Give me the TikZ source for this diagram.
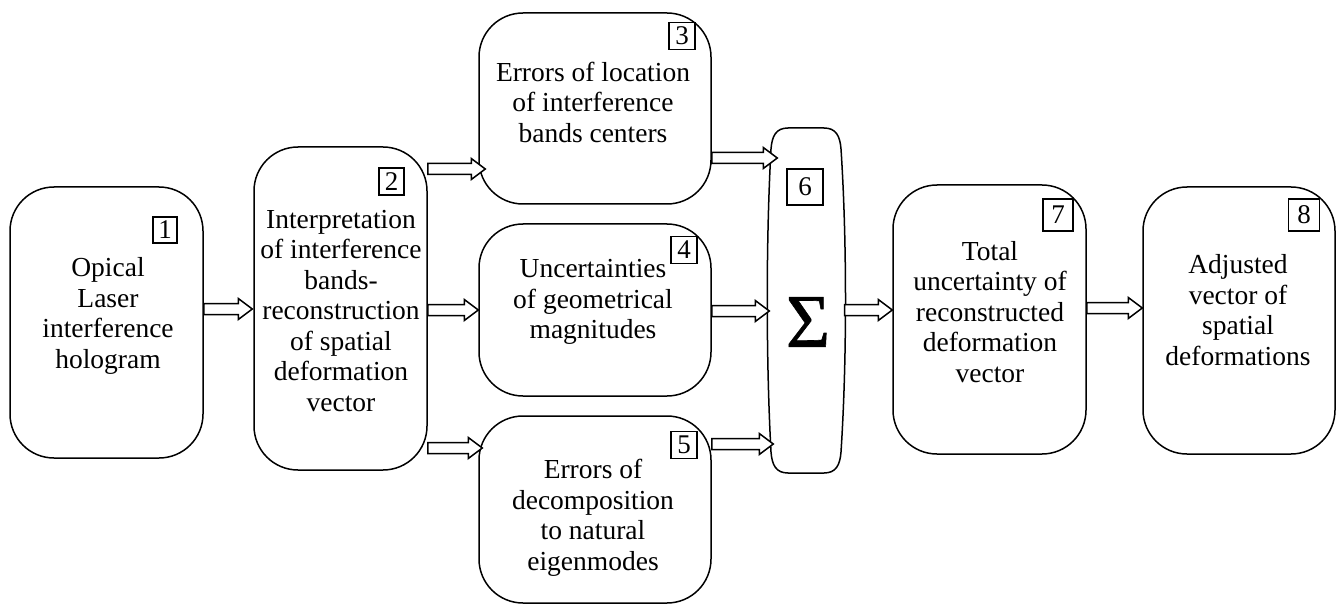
\documentclass[tikz,border=0pt]{standalone}
\usepackage{fontspec}
\setmainfont{Liberation Serif}
\newfontfamily\sigmafont[FakeBold=0.8]{Liberation Serif}
\usetikzlibrary{calc}
% hollow block arrow from the right side of #1 to the left side of #2,
% at height #3, with the tip moved right by #4
\newcommand\blk[4]{%
  \draw[blkarrow] let \p1=(#1.east |- 0,#3), \p2=(#2.west |- 0,#3) in
    (\x1,\y1+5.5pt) -- (\x2+#4pt-14pt,\y1+5.5pt) -- (\x2+#4pt-14pt,\y1+10.5pt)
    -- (\x2+#4pt,\y1) -- (\x2+#4pt-14pt,\y1-10.5pt) -- (\x2+#4pt-14pt,\y1-5.5pt)
    -- (\x1,\y1-5.5pt) -- cycle;}
\begin{document}
\begin{tikzpicture}[x=1pt,y=-1pt,
  box/.style={draw,line width=1.5pt,rounded corners=44pt,inner sep=0pt},
  num/.style={draw,line width=1.1pt,inner sep=0pt,font=\fontsize{27}{27}\selectfont},
  txt/.style={align=center,font=\fontsize{27.5}{30.5}\selectfont,inner sep=0pt},
  blkarrow/.style={draw,line width=1.5pt,fill=white,line join=miter}]
\useasboundingbox (0,0) rectangle (1341,604);

% process blocks
\node[box,minimum width=193pt,minimum height=271pt] (b1) at (106.5,322.5) {};
\node[box,minimum width=173pt,minimum height=323pt] (b2) at (340.5,308.5) {};
\node[box,minimum width=232pt,minimum height=191pt] (b3) at (595,108.5) {};
\node[box,minimum width=232pt,minimum height=172pt] (b4) at (595,310) {};
\node[box,minimum width=232pt,minimum height=187pt] (b5) at (595,509.5) {};
\node[box,minimum width=193pt,minimum height=269pt] (b7) at (989.5,319.5) {};
\node[box,minimum width=192pt,minimum height=267pt] (b8) at (1239,320.5) {};

% summing block
\node[minimum width=77pt,minimum height=345pt,inner sep=0pt] (b6) at (806,300.5) {};
\draw[line width=1.5pt] (788,128) -- (824,128)
  .. controls (836,128) and (840,136) .. (841,149)
  .. controls (847,240) and (847,360) .. (841,452)
  .. controls (840,465) and (836,473) .. (824,473) -- (788,473)
  .. controls (776,473) and (772,465) .. (771,452)
  .. controls (766,360) and (766,240) .. (771,149)
  .. controls (772,136) and (776,128) .. (788,128) -- cycle;
\node (sig) at (808,322) {\sigmafont\fontsize{76}{76}\selectfont Σ};

% block numbers
\node[num,minimum width=24pt,minimum height=26pt] (n1) at (165,230) {1};
\node[num,minimum width=25pt,minimum height=27pt] (n2) at (391.5,181.5) {2};
\node[num,minimum width=26pt,minimum height=27pt] (n3) at (682,36) {3};
\node[num,minimum width=26pt,minimum height=27pt] (n4) at (684,250) {4};
\node[num,minimum width=26pt,minimum height=27pt] (n5) at (684,445) {5};
\node[num,minimum width=36pt,minimum height=36pt] (n6) at (805,187) {6};
\node[num,minimum width=30pt,minimum height=32pt] (n7) at (1058,215) {7};
\node[num,minimum width=31pt,minimum height=32pt] (n8) at (1304,215) {8};

% block texts
\node[txt] (t1) at (108,316) {Opical\\Laser\\interference\\hologram};
\node[txt] (t2) at (341,311) {Interpretation\\of interference\\bands-\\reconstruction\\of spatial\\deformation\\vector};
\node[txt] (t3) at (593,102) {Errors of location\\of interference\\bands centers};
\node[txt] (t4) at (593,302) {Uncertainties\\of geometrical\\magnitudes};
\node[txt] (t5) at (593,518) {Errors of\\decomposition\\to natural\\eigenmodes};
\node[txt] (t7) at (990,312) {Total\\uncertainty of\\reconstructed\\deformation\\vector};
\node[txt] (t8) at (1238,310) {Adjusted\\vector of\\spatial\\deformations};

% connectors
\blk{b1}{b2}{309}{-1}
\blk{b2}{b3}{169}{7}
\blk{b2}{b4}{310}{0}
\blk{b2}{b5}{448}{4}
\blk{b3}{b6}{158}{10}
\blk{b4}{b6}{311}{2}
\blk{b5}{b6}{444}{6}
\blk{b6}{b7}{310}{0}
\blk{b7}{b8}{308}{0}
\end{tikzpicture}
\end{document}
